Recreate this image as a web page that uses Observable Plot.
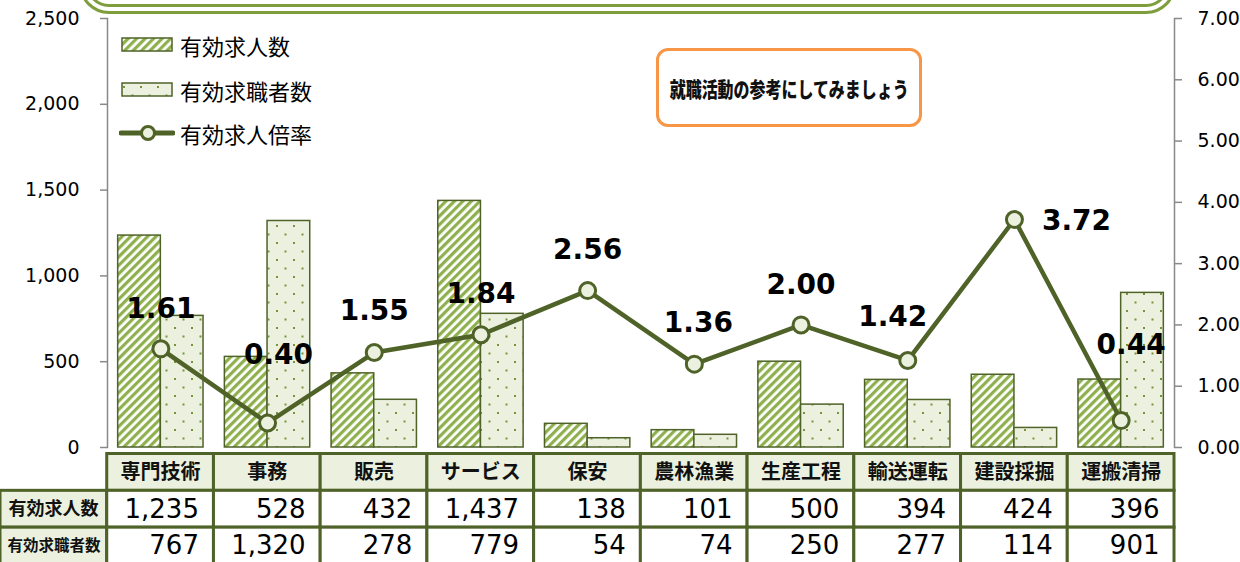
<!DOCTYPE html>
<html><head><meta charset="utf-8">
<script src="https://cdn.jsdelivr.net/npm/d3@7"></script>
<script src="https://cdn.jsdelivr.net/npm/@observablehq/plot@0.6"></script>
<style>
body{margin:0;background:#fff;font-family:"DejaVu Sans",sans-serif;}
#wrap{position:relative;width:1240px;height:562px;overflow:hidden;background:#fff;}
#wrap svg{display:block;}
.topframe{position:absolute;left:79px;top:-70px;width:1097px;height:84px;box-sizing:border-box;border:10px double #7E9E3C;border-radius:30px;}
.note{position:absolute;left:656px;top:48px;width:266px;height:79px;box-sizing:border-box;border:3.5px solid #F79646;border-radius:12px;background:#fff;display:flex;align-items:center;justify-content:center;}
.note span{display:inline-block;font-family:"Noto Sans CJK JP",sans-serif;font-weight:900;font-size:21px;color:#111;transform:scaleX(0.76);white-space:nowrap;letter-spacing:0px;}
.legend{position:absolute;left:119px;top:30px;font-family:"Noto Sans CJK JP",sans-serif;font-size:22px;color:#000;}
.legend .item{position:absolute;left:0;height:30px;display:flex;align-items:center;white-space:nowrap;}
.legend svg{margin-right:5px;}
</style></head><body><div id="wrap"></div>
<script>
// ---- data ----
const categories = ["専門技術","事務","販売","サービス","保安","農林漁業","生産工程","輸送運転","建設採掘","運搬清掃"];
const jobOffers  = [1235, 528, 432, 1437, 138, 101, 500, 394, 424, 396];
const jobSeekers = [767, 1320, 278, 779, 54, 74, 250, 277, 114, 901];
const ratios     = [1.61, 0.40, 1.55, 1.84, 2.56, 1.36, 2.00, 1.42, 3.72, 0.44];
const leftTicks  = [0, 500, 1000, 1500, 2000, 2500];
const rightTicks = [0, 1, 2, 3, 4, 5, 6, 7];
const seriesNames = ["有効求人数", "有効求職者数", "有効求人倍率"];
const noteText = "就職活動の参考にしてみましょう";
// label nudges (px) for ratio labels, as placed in the original
const labelShift = [[0,-40],[11,-68],[0,-41],[0,-41],[0,-41],[4,-41],[0,-40],[-15,-43],[62,2],[10,-76]];

// ---- build ----
const Y_MAX = 2500, R_MAX = 7, k = Y_MAX / R_MAX;
const rows = categories.map((c, i) => ({cat: c, offers: jobOffers[i], seekers: jobSeekers[i], ratio: ratios[i]}));
const W = 1240, H = 452, mL = 107, mR = 66, mT = 18, mB = 5;
const step = (W - mL - mR) / categories.length;
const half = step * 0.8 / 2;
const dark = "#4F6228";
const axisGray = "#898989";

const labelMarks = rows.map((d, i) => Plot.text([d], {
  x: "cat", y: r => r.ratio * k, text: r => r.ratio.toFixed(2),
  dx: labelShift[i][0], dy: labelShift[i][1],
  fontSize: 28, fontWeight: "bold", fontFamily: "DejaVu Sans", fill: "#000"
}));

const chart = Plot.plot({
  width: W, height: H, marginLeft: mL, marginRight: mR, marginTop: mT, marginBottom: mB,
  style: {fontFamily: "DejaVu Sans", fontSize: "19px", color: "#000", background: "transparent", overflow: "visible"},
  x: {domain: categories, paddingInner: 0.2, paddingOuter: 0.1, round: false, axis: null},
  y: {domain: [0, Y_MAX], axis: null},
  marks: [
    Plot.barY(rows, {x: "cat", y: "offers", fill: "url(#hatch)", stroke: dark, strokeWidth: 1.5, insetRight: half}),
    Plot.barY(rows, {x: "cat", y: "seekers", fill: "url(#dots)", stroke: dark, strokeWidth: 1.5, insetLeft: half}),
    Plot.frame({anchor: "left", stroke: axisGray, strokeWidth: 1.5}),
    Plot.frame({anchor: "right", stroke: axisGray, strokeWidth: 1.5}),
    Plot.axisY({anchor: "left", ticks: leftTicks, tickSize: 7, tickPadding: 21, stroke: axisGray, strokeWidth: 1.5, fill: "#000", fontSize: 19, tickFormat: d3.format(","), label: null}),
    Plot.axisY({anchor: "right", ticks: rightTicks.map(r => r * k), tickSize: 7, tickPadding: 16, stroke: axisGray, strokeWidth: 1.5, fill: "#000", fontSize: 19, tickFormat: d => (d / k).toFixed(2), label: null}),
    Plot.line(rows, {x: "cat", y: d => d.ratio * k, stroke: dark, strokeWidth: 4.5}),
    Plot.dot(rows, {x: "cat", y: d => d.ratio * k, r: 8, fill: "#EBF1DE", stroke: dark, strokeWidth: 3}),
    ...labelMarks
  ]
});

const defsHTML = `
<pattern id="hatch" patternUnits="userSpaceOnUse" width="6" height="6" patternTransform="rotate(45)">
  <rect width="6" height="6" fill="#ffffff"/><rect width="3.2" height="6" fill="#8FB04E"/>
</pattern>
<pattern id="dots" patternUnits="userSpaceOnUse" width="17" height="17">
  <rect width="17" height="17" fill="#EBF1DE"/>
  <rect x="4" y="4" width="2" height="2" fill="#77933C"/>
  <rect x="12.5" y="12.5" width="2" height="2" fill="#77933C"/>
</pattern>`;
const defs = document.createElementNS("http://www.w3.org/2000/svg", "defs");
defs.innerHTML = defsHTML;
chart.insertBefore(defs, chart.firstChild);

// ---- table ----
const rowKeys = ["header", "offers", "seekers"];
const cells = [];
categories.forEach(c => cells.push({col: c, row: "header", fill: "#EBF1DE"}));
["offers", "seekers"].forEach(r => {
  cells.push({col: "label", row: r, fill: "#EBF1DE"});
  categories.forEach(c => cells.push({col: c, row: r, fill: "#ffffff"}));
});
const table = Plot.plot({
  width: W, height: 110, margin: 0,
  style: {fontFamily: "DejaVu Sans", background: "transparent", overflow: "visible"},
  x: {domain: ["label", ...categories], range: [0, W - mR], padding: 0, round: false, axis: null},
  y: {domain: rowKeys, range: [1.5, 112], padding: 0, round: false, axis: null},
  marks: [
    Plot.cell(cells, {x: "col", y: "row", fill: "fill", stroke: dark, strokeWidth: 3}),
    Plot.text(categories, {x: d => d, y: () => "header", text: d => d, fontSize: 20, fontWeight: "bold", fontFamily: "Noto Sans CJK JP", fill: "#111"}),
    Plot.text(rows, {x: "cat", y: () => "offers", text: d => d3.format(",")(d.offers), textAnchor: "end", dx: step / 2 - 15, fontSize: 26, fill: "#000"}),
    Plot.text(rows, {x: "cat", y: () => "seekers", text: d => d3.format(",")(d.seekers), textAnchor: "end", dx: step / 2 - 15, fontSize: 26, fill: "#000"}),
    Plot.text([seriesNames[0]], {x: () => "label", y: () => "offers", text: d => d, textAnchor: "start", dx: -step / 2 + 8, fontSize: 18, fontWeight: "bold", fontFamily: "Noto Sans CJK JP", fill: "#111"}),
    Plot.text([seriesNames[1]], {x: () => "label", y: () => "seekers", text: d => d, textAnchor: "start", dx: -step / 2 + 7, fontSize: 15.5, fontWeight: "bold", fontFamily: "Noto Sans CJK JP", fill: "#111"})
  ]
});

const wrap = document.getElementById("wrap");
wrap.appendChild(chart);
wrap.appendChild(table);

// top frame + note + legend
const tf = document.createElement("div"); tf.className = "topframe"; wrap.appendChild(tf);
const note = document.createElement("div"); note.className = "note";
note.innerHTML = `<span>${noteText}</span>`; wrap.appendChild(note);

const legend = document.createElement("div"); legend.className = "legend";
const sw = [
  `<svg width="56" height="16"><rect x="3" y="1" width="50" height="13" fill="url(#hatch)" stroke="${dark}" stroke-width="1.5"/></svg>`,
  `<svg width="56" height="16"><rect x="3" y="1" width="50" height="13" fill="url(#dots)" stroke="${dark}" stroke-width="1.5"/></svg>`,
  `<svg width="56" height="20"><line x1="2" y1="10" x2="54" y2="10" stroke="${dark}" stroke-width="5" stroke-linecap="round"/><circle cx="29" cy="10" r="6.5" fill="#EBF1DE" stroke="${dark}" stroke-width="3"/></svg>`
];
const tops = [0, 45, 88];
seriesNames.forEach((n, i) => {
  const it = document.createElement("div"); it.className = "item";
  it.style.top = tops[i] + "px";
  it.innerHTML = sw[i] + `<span>${n}</span>`;
  legend.appendChild(it);
});
wrap.appendChild(legend);
</script></body></html>
